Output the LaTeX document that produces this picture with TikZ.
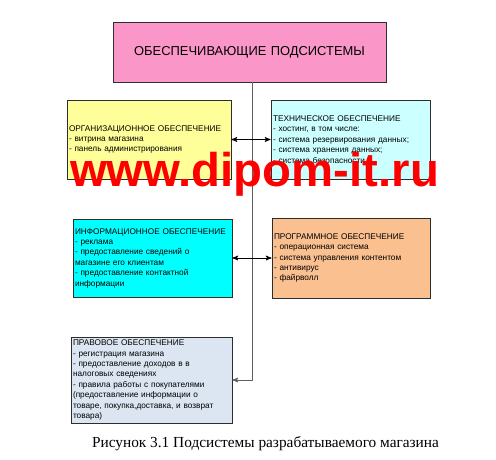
\documentclass[tikz,border=0pt]{standalone}
\usepackage{fontspec}
\setmainfont{Liberation Sans}
\newfontfamily\capfont{Liberation Serif}
\usepackage{tikz}
\usetikzlibrary{arrows}
\usetikzlibrary{positioning}

\definecolor{pinkfill}{RGB}{250,150,200}
\definecolor{yellowfill}{RGB}{255,255,153}
\definecolor{techfill}{RGB}{204,255,255}
\definecolor{infofill}{RGB}{0,255,255}
\definecolor{progfill}{RGB}{250,192,144}
\definecolor{lawfill}{RGB}{220,230,242}
\definecolor{boxline}{RGB}{45,45,45}
\definecolor{trunkline}{RGB}{95,95,95}

\begin{document}
\begin{tikzpicture}[x=0.75pt,y=-0.75pt,>=stealth',
		box/.style={rectangle,draw=boxline,line width=0.6pt,align=left,inner xsep=1.5pt,inner ysep=1pt,
			font=\fontsize{6.2}{7.8}\selectfont},
		link/.style={line width=0.6pt},
		trunk/.style={draw=trunkline,line width=0.6pt}]
		\useasboundingbox (0,0) rectangle (496,460);
		
		\node[box,fill=pinkfill,align=center,text width=201.75pt,minimum height=45pt,
			font=\fontsize{9.7}{12}\selectfont] (top) at (249.5,52) {ОБЕСПЕЧИВАЮЩИЕ ПОДСИСТЕМЫ};
		
		\node[box,fill=yellowfill,text width=120pt,minimum height=59.25pt] (org) at (149,139.5)
			{ОРГАНИЗАЦИОННОЕ ОБЕСПЕЧЕНИЕ\\- витрина магазина\\- панель администрирования};
		\node[box,fill=techfill,text width=116.25pt,minimum height=59.25pt] (tech) at (350.5,139.5)
			{ТЕХНИЧЕСКОЕ ОБЕСПЕЧЕНИЕ\\- хостинг, в том числе:\\- система резервирования данных;\\- система хранения данных;\\- система безопасности};
		
		\node[box,fill=infofill,text width=116.25pt,minimum height=58.5pt] (info) at (152.5,258)
			{ИНФОРМАЦИОННОЕ ОБЕСПЕЧЕНИЕ\\- реклама\\- предоставление сведений о\\магазине его клиентам\\- предоставление контактной\\информации};
		\node[box,fill=progfill,text width=115.5pt,minimum height=60pt] (prog) at (351,258)
			{ПРОГРАММНОЕ ОБЕСПЕЧЕНИЕ\\- операционная система\\- система управления контентом\\- антивирус\\- файрволл};
		
		\node[box,fill=lawfill,text width=117.75pt,minimum height=64.5pt] (law) at (151.5,380)
			{ПРАВОВОЕ ОБЕСПЕЧЕНИЕ\\- регистрация магазина\\- предоставление доходов в в\\налоговых сведениях\\- правила работы с покупателями\\(предоставление информации о\\товаре, покупка,доставка, и возврат\\товара)};
		
		% trunk line and side arrows
		\draw[trunk,->] ([xshift=1.9pt]top.south) |- (law.east);
		\path[<->,link]
		(org) edge (tech)
		(info) edge (prog);
		
		\node[anchor=base,text=red,font=\fontsize{35.5}{36}\selectfont\bfseries] (mark) at (254.5,186) {www.dipom-it.ru};
		
		\node[anchor=base,font=\capfont\fontsize{11.5}{13}\selectfont] (caption) at (265.5,447)
			{Рисунок 3.1 Подсистемы разрабатываемого магазина};
\end{tikzpicture}
\end{document}
